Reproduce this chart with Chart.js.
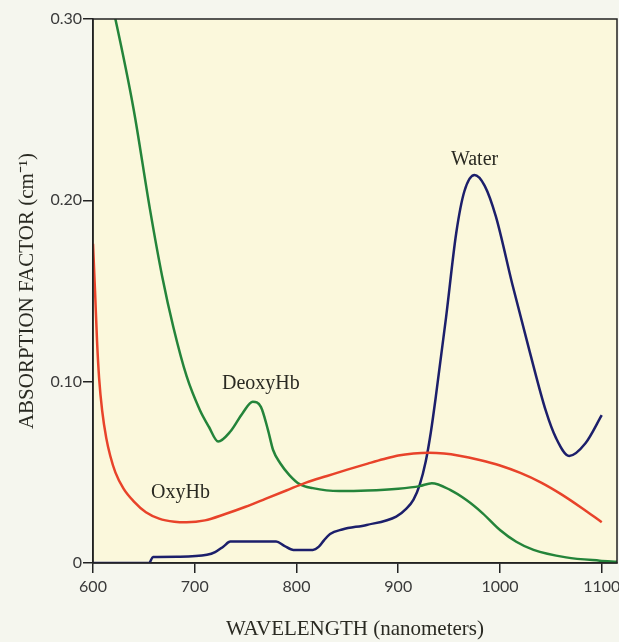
<!DOCTYPE html>
<html>
<head>
<meta charset="utf-8">
<script src="https://cdn.jsdelivr.net/npm/chart.js@4"></script>
<style>
  body { margin: 0; background: #f5f6ee; }
  canvas { display: block; }
</style>
</head>
<body>
<canvas id="chart" width="619" height="642"></canvas>
<script>
// wavelength (nm) and absorption factor (cm^-1)
const deoxyNm = [617, 622, 640, 656, 668, 679, 692, 705, 714, 723, 735, 747, 757, 765, 772, 777, 784, 793, 803, 816, 842, 870, 900, 921, 933, 951, 967, 983, 1000, 1016, 1033, 1065, 1098, 1115];
const deoxyAbs = [0.312, 0.30, 0.25, 0.195, 0.158, 0.130, 0.103, 0.0844, 0.075, 0.067, 0.0725, 0.0826, 0.0889, 0.0861, 0.0733, 0.0623, 0.055, 0.0485, 0.0435, 0.0413, 0.0397, 0.040, 0.041, 0.0424, 0.044, 0.0403, 0.0347, 0.0274, 0.0182, 0.0117, 0.0072, 0.0031, 0.0013, 0.0007];

const oxyNm = [600, 602, 604, 606, 609, 613, 617, 622, 630, 640, 652, 665, 680, 692, 710, 730, 750, 770, 790, 810, 830, 850, 870, 885, 900, 915, 930, 945, 960, 980, 1000, 1020, 1040, 1060, 1080, 1100];
const oxyAbs = [0.176, 0.150, 0.122, 0.102, 0.084, 0.069, 0.059, 0.050, 0.041, 0.034, 0.028, 0.0245, 0.0228, 0.0225, 0.0235, 0.027, 0.031, 0.0355, 0.040, 0.0445, 0.048, 0.0515, 0.0548, 0.0572, 0.0593, 0.0604, 0.0608, 0.0604, 0.0592, 0.0568, 0.0538, 0.0497, 0.0445, 0.0380, 0.0305, 0.0225];

const waterNm = [600, 655, 659, 685, 712, 720, 728, 735, 780, 788, 797, 816, 822, 827, 833, 845, 869, 898, 908, 915, 921, 927, 932, 937, 947, 957, 965, 975, 985, 996, 1012, 1029, 1045, 1055, 1068, 1084, 1100];
const waterAbs = [0, 0, 0.0033, 0.0035, 0.0045, 0.006, 0.009, 0.0118, 0.0118, 0.0095, 0.0072, 0.0072, 0.009, 0.0125, 0.016, 0.0185, 0.021, 0.0256, 0.030, 0.035, 0.043, 0.056, 0.072, 0.092, 0.1355, 0.182, 0.205, 0.214, 0.208, 0.191, 0.154, 0.117, 0.084, 0.069, 0.059, 0.066, 0.0815];

const xTicks = [600, 700, 800, 900, 1000, 1100];
const yTicks = [0, 0.10, 0.20, 0.30];

const labels = [
  { text: 'Water', x: 975, y: 0.2226 },
  { text: 'DeoxyHb', x: 765, y: 0.099 },
  { text: 'OxyHb', x: 686, y: 0.039 }
];

const toPoints = (xs, ys) => xs.map((x, i) => ({ x: x, y: ys[i] }));

const plotBox = {
  id: 'plotBox',
  beforeDraw(chart) {
    const a = chart.chartArea, ctx = chart.ctx;
    ctx.save();
    ctx.fillStyle = '#fbf8dc';
    ctx.fillRect(a.left, a.top, a.right - a.left, a.bottom - a.top);
    ctx.restore();
  },
  afterDatasetsDraw(chart) {
    const a = chart.chartArea, ctx = chart.ctx;
    const xs = chart.scales.x, ys = chart.scales.y;
    ctx.save();
    ctx.strokeStyle = '#222';
    ctx.lineWidth = 1.5;
    ctx.strokeRect(a.left, a.top, a.right - a.left, a.bottom - a.top);
    ctx.fillStyle = '#2a2a22';
    ctx.font = '20px "Liberation Serif"';
    ctx.textAlign = 'center';
    ctx.textBaseline = 'middle';
    labels.forEach(l => {
      ctx.fillText(l.text, xs.getPixelForValue(l.x), ys.getPixelForValue(l.y));
    });
    ctx.restore();
  }
};

const ds = (label, pts, color) => ({
  label: label,
  data: pts,
  borderColor: color,
  borderWidth: 2.5,
  pointRadius: 0,
  fill: false,
  cubicInterpolationMode: 'monotone'
});

new Chart(document.getElementById('chart').getContext('2d'), {
  type: 'line',
  data: {
    datasets: [
      ds('OxyHb', toPoints(oxyNm, oxyAbs), '#e8432a'),
      ds('DeoxyHb', toPoints(deoxyNm, deoxyAbs), '#24843a'),
      ds('Water', toPoints(waterNm, waterAbs), '#1c1f6b')
    ]
  },
  options: {
    responsive: false,
    animation: false,
    layout: { padding: { top: 19, right: 2, left: 0, bottom: 0 } },
    plugins: { legend: { display: false }, tooltip: { enabled: false } },
    scales: {
      x: {
        type: 'linear',
        min: 600,
        max: 1115,
        afterBuildTicks: s => { s.ticks = xTicks.map(v => ({ value: v })); },
        afterFit: s => { s.height = 79; s.paddingLeft = 0; s.paddingRight = 0; },
        grid: { drawOnChartArea: false, tickLength: 10, color: '#222', lineWidth: 1.5 },
        border: { display: true, color: '#222', width: 1.5 },
        ticks: {
          color: '#3a3a3a',
          font: { family: 'Lato', size: 16 },
          padding: 4,
          maxRotation: 0,
          callback: v => String(v)
        },
        title: {
          display: true,
          text: 'WAVELENGTH (nanometers)',
          color: '#2a2a22',
          font: { family: 'Liberation Serif', size: 21 },
          padding: { top: 0, bottom: 0 }
        }
      },
      y: {
        min: 0,
        max: 0.30,
        afterBuildTicks: s => { s.ticks = yTicks.map(v => ({ value: v })); },
        afterFit: s => { s.width = 93; },
        grid: { drawOnChartArea: false, tickLength: 10, color: '#222', lineWidth: 1.5 },
        border: { display: true, color: '#222', width: 1.5 },
        ticks: {
          color: '#3a3a3a',
          font: { family: 'Lato', size: 16 },
          padding: 1,
          callback: v => v === 0 ? '0' : v.toFixed(2)
        },
        title: {
          display: true,
          text: 'ABSORPTION FACTOR (cm⁻¹)',
          color: '#2a2a22',
          font: { family: 'Liberation Serif', size: 21 },
          padding: { top: 15, bottom: 0 }
        }
      }
    }
  },
  plugins: [plotBox]
});
</script>
</body>
</html>
